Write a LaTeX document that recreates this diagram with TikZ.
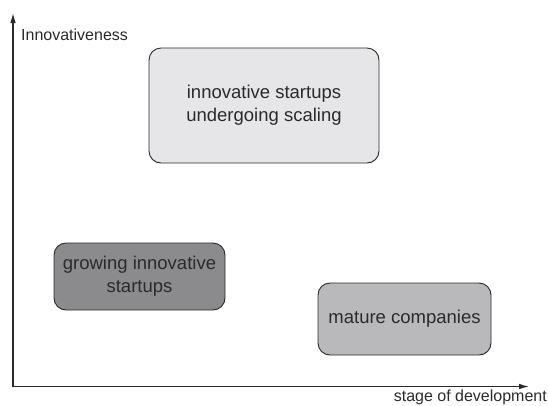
\documentclass[tikz,border=0pt]{standalone}
\usepackage{fontspec}
\setmainfont{Liberation Sans}
\usetikzlibrary{arrows.meta}
\definecolor{boxlight}{HTML}{E6E6E8}
\definecolor{boxmid}{HTML}{B9B9BB}
\definecolor{boxdark}{HTML}{8B8B8D}
\definecolor{inkgray}{HTML}{2A2A2A}
\tikzset{
  stagebox/.style={draw=inkgray, line width=0.9pt, rounded corners=12pt, align=center,
    text=inkgray, font=\fontsize{18.5}{23}\selectfont, inner sep=0pt},
  axislabel/.style={text=inkgray, font=\fontsize{16}{19}\selectfont, inner sep=0pt},
  axisline/.style={line width=1.1pt, inkgray, -{Latex[length=10pt,width=5.5pt]}}
}
\begin{document}
\begin{tikzpicture}[x=1pt, y=-1pt]
            \useasboundingbox (0,0) rectangle (548,405);
            % axes
            \coordinate (origin) at (13, 386.5);
            \coordinate (ytip) at (13, 13);
            \coordinate (xtip) at (529, 386.5);
            \draw[axisline] (origin) -- (ytip);
            \draw[axisline] (origin) -- (xtip);
            \node[axislabel, anchor=west] (ylabel) at (21, 35) {Innovativeness};
            \node[axislabel, anchor=east] (xlabel) at (547, 397) {stage of development};
            % stages
            \node[stagebox, fill=boxlight, minimum width=230pt, minimum height=115pt] (scaling) at (264, 105.5) {innovative startups\\undergoing scaling};
            \node[stagebox, fill=boxdark, minimum width=171pt, minimum height=67pt] (growing) at (139.5, 276.5) {growing innovative\\startups};
            \node[stagebox, fill=boxmid, minimum width=173pt, minimum height=72pt] (mature) at (404.5, 319) {mature companies};
        \end{tikzpicture}
\end{document}
